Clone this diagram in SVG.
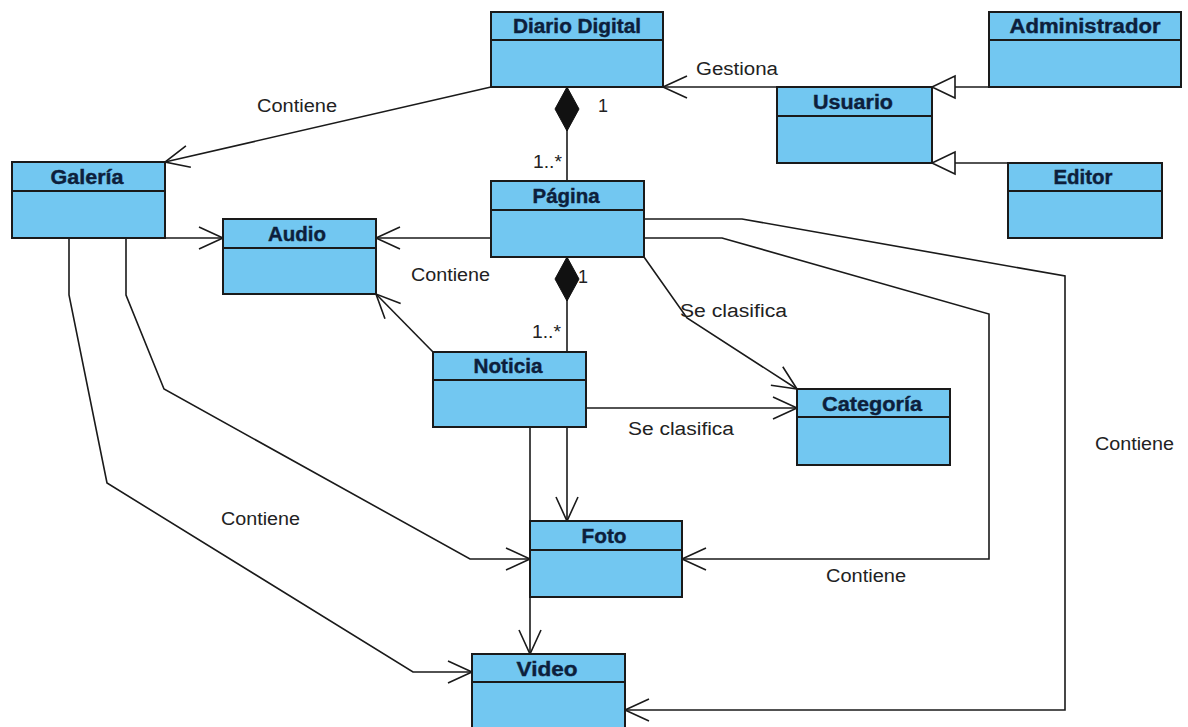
<svg xmlns="http://www.w3.org/2000/svg" width="1188" height="727" viewBox="0 0 1188 727">
<style>
.box{fill:#72c7f1;stroke:#1a1a1a;stroke-width:2}
.div{stroke:#1a1a1a;stroke-width:2}
.hdr{font-family:"Liberation Sans",Arial,sans-serif;font-weight:bold;font-size:20px;fill:#0d1f3c;stroke:#0d1f3c;stroke-width:0.4;text-anchor:middle}
.lbl{font-family:"Liberation Sans",Arial,sans-serif;font-size:18px;fill:#222}
.c{fill:none;stroke:#1a1a1a;stroke-width:1.6}
.arr{marker-end:url(#open)}
.gen{marker-end:url(#tri)}
.comp{marker-start:url(#dia)}
</style>
<defs>
<marker id="open" markerUnits="userSpaceOnUse" viewBox="-27 -14 30 28" markerWidth="30" markerHeight="28" refX="0" refY="0" orient="auto" overflow="visible">
<path d="M-24,-11 L0,0 L-24,11" fill="none" stroke="#1a1a1a" stroke-width="1.6"/>
</marker>
<marker id="tri" markerUnits="userSpaceOnUse" viewBox="-26 -14 30 28" markerWidth="30" markerHeight="28" refX="0" refY="0" orient="auto" overflow="visible">
<path d="M-23,-11 L0,0 L-23,11 Z" fill="#fff" stroke="#1a1a1a" stroke-width="1.6"/>
</marker>
<marker id="dia" markerUnits="userSpaceOnUse" viewBox="-2 -14 48 28" markerWidth="48" markerHeight="28" refX="0" refY="0" orient="auto" overflow="visible">
<path d="M0,0 L22,-12 L44,0 L22,12 Z" fill="#111" stroke="#111" stroke-width="1"/>
</marker>
</defs>
<rect width="1188" height="727" fill="#fff"/>
<g id="connectors">
<path class="c arr" d="M491,87 L165,162"/>
<path class="c arr" d="M165,238 L223,238"/>
<path class="c arr" d="M491,238 L376,238"/>
<path class="c arr" d="M433,352 L376,294"/>
<path class="c comp" d="M567,87 L567,181"/>
<path class="c comp" d="M567,257 L567,352"/>
<path class="c arr" d="M644,257 L687,318 L797,389"/>
<path class="c arr" d="M586,408 L797,408"/>
<path class="c arr" d="M644,219 L742,219 L1065,276 L1065,710 L625,710"/>
<path class="c arr" d="M644,238 L722,238 L989,314 L989,559 L682,559"/>
<path class="c arr" d="M126,238 L126,295 L164,389 L470,559 L530,559"/>
<path class="c arr" d="M69,238 L69,295 L107,483 L413,672 L472,672"/>
<path class="c arr" d="M567,427 L567,521"/>
<path class="c arr" d="M530,427 L530,654"/>
<path class="c arr" d="M777,87 L663,87"/>
<path class="c gen" d="M989,87 L932,87"/>
<path class="c gen" d="M1008,163 L932,163"/>
<text class="lbl" x="257" y="112" textLength="80" lengthAdjust="spacingAndGlyphs">Contiene</text>
<text class="lbl" x="696" y="75" textLength="82" lengthAdjust="spacingAndGlyphs">Gestiona</text>
<text class="lbl" x="598" y="112">1</text>
<text class="lbl" x="533" y="168" textLength="29" lengthAdjust="spacingAndGlyphs">1..*</text>
<text class="lbl" x="411" y="281" textLength="79" lengthAdjust="spacingAndGlyphs">Contiene</text>
<text class="lbl" x="578" y="283">1</text>
<text class="lbl" x="532" y="338" textLength="29" lengthAdjust="spacingAndGlyphs">1..*</text>
<text class="lbl" x="680" y="317" textLength="107" lengthAdjust="spacingAndGlyphs">Se clasifica</text>
<text class="lbl" x="628" y="435" textLength="106" lengthAdjust="spacingAndGlyphs">Se clasifica</text>
<text class="lbl" x="221" y="525" textLength="79" lengthAdjust="spacingAndGlyphs">Contiene</text>
<text class="lbl" x="826" y="582" textLength="80" lengthAdjust="spacingAndGlyphs">Contiene</text>
<text class="lbl" x="1095" y="450" textLength="79" lengthAdjust="spacingAndGlyphs">Contiene</text>
</g>
<g id="diario-digital">
<rect class="box" x="491" y="12" width="172" height="75"/>
<line class="div" x1="491" y1="40" x2="663" y2="40"/>
<text class="hdr" x="577" y="33" textLength="128" lengthAdjust="spacingAndGlyphs">Diario Digital</text>
</g>
<g id="administrador">
<rect class="box" x="989" y="12" width="192" height="75"/>
<line class="div" x1="989" y1="40" x2="1181" y2="40"/>
<text class="hdr" x="1085" y="33" textLength="151" lengthAdjust="spacingAndGlyphs">Administrador</text>
</g>
<g id="usuario">
<rect class="box" x="777" y="87" width="155" height="76"/>
<line class="div" x1="777" y1="116" x2="932" y2="116"/>
<text class="hdr" x="853" y="109" textLength="80" lengthAdjust="spacingAndGlyphs">Usuario</text>
</g>
<g id="editor">
<rect class="box" x="1008" y="163" width="154" height="75"/>
<line class="div" x1="1008" y1="191" x2="1162" y2="191"/>
<text class="hdr" x="1083" y="184" textLength="59" lengthAdjust="spacingAndGlyphs">Editor</text>
</g>
<g id="galeria">
<rect class="box" x="12" y="162" width="153" height="76"/>
<line class="div" x1="12" y1="191" x2="165" y2="191"/>
<text class="hdr" x="87" y="184" textLength="73" lengthAdjust="spacingAndGlyphs">Galería</text>
</g>
<g id="audio">
<rect class="box" x="223" y="219" width="153" height="75"/>
<line class="div" x1="223" y1="248" x2="376" y2="248"/>
<text class="hdr" x="297" y="241" textLength="58" lengthAdjust="spacingAndGlyphs">Audio</text>
</g>
<g id="pagina">
<rect class="box" x="491" y="181" width="153" height="76"/>
<line class="div" x1="491" y1="210" x2="644" y2="210"/>
<text class="hdr" x="566" y="203" textLength="67" lengthAdjust="spacingAndGlyphs">Página</text>
</g>
<g id="noticia">
<rect class="box" x="433" y="352" width="153" height="75"/>
<line class="div" x1="433" y1="380" x2="586" y2="380"/>
<text class="hdr" x="508" y="373" textLength="69" lengthAdjust="spacingAndGlyphs">Noticia</text>
</g>
<g id="categoria">
<rect class="box" x="797" y="389" width="153" height="76"/>
<line class="div" x1="797" y1="417" x2="950" y2="417"/>
<text class="hdr" x="872" y="411" textLength="100" lengthAdjust="spacingAndGlyphs">Categoría</text>
</g>
<g id="foto">
<rect class="box" x="530" y="521" width="152" height="76"/>
<line class="div" x1="530" y1="550" x2="682" y2="550"/>
<text class="hdr" x="604" y="543" textLength="45" lengthAdjust="spacingAndGlyphs">Foto</text>
</g>
<g id="video">
<rect class="box" x="472" y="654" width="153" height="78"/>
<line class="div" x1="472" y1="682" x2="625" y2="682"/>
<text class="hdr" x="547" y="676" textLength="61" lengthAdjust="spacingAndGlyphs">Video</text>
</g>
</svg>
